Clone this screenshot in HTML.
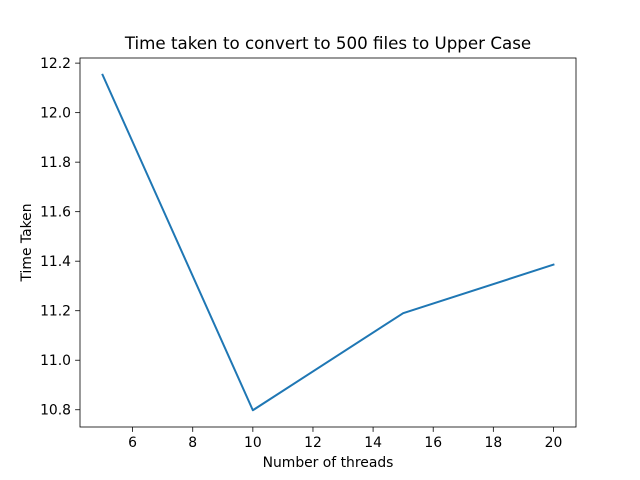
<!DOCTYPE html>
<html><head><meta charset="utf-8"><style>body{margin:0;background:#fff}svg{display:block;font-family:"DejaVu Sans","Liberation Sans",sans-serif}</style></head>
<body>
<svg id="chart" width="640" height="480"></svg>
<script>
const threads = [5, 10, 15, 20];
const timeTaken = [12.153, 10.798, 11.19, 11.386];
const xTicks = [6, 8, 10, 12, 14, 16, 18, 20];
const yTicks = [10.8, 11.0, 11.2, 11.4, 11.6, 11.8, 12.0, 12.2];
const L=80,R=576,T=58,B=427;
const xmin=4.25,xmax=20.75;
const ymin=10.7303,ymax=12.2207;
const sx=v=>L+(v-xmin)/(xmax-xmin)*(R-L);
const sy=v=>B-(v-ymin)/(ymax-ymin)*(B-T);
const svg=document.getElementById('chart');
const NS='http://www.w3.org/2000/svg';
function mk(tag,attrs,text){const e=document.createElementNS(NS,tag);for(const k in attrs)e.setAttribute(k,attrs[k]);if(text!==undefined)e.textContent=text;svg.appendChild(e);return e;}
xTicks.forEach(t=>{const x=sx(t);
 const l=mk('line',{x1:x,x2:x,y1:B,y2:B+4.9,stroke:'#000','stroke-width':0.8});
 
 
 const tx=mk('text',{x:x,y:B+20,'font-size':13.9,'text-anchor':'middle'},String(t));
 
 
});
yTicks.forEach(t=>{const y=sy(t);
 const l=mk('line',{x1:L-4.9,x2:L,y1:y,y2:y,stroke:'#000','stroke-width':0.8});
 
 
 const tx=mk('text',{x:L-9,y:y+5,'font-size':13.9,'text-anchor':'end'},t.toFixed(1));
 
 
});
const pts=threads.map((v,i)=>sx(v).toFixed(2)+','+sy(timeTaken[i]).toFixed(2)).join(' ');
const pl=mk('polyline',{points:pts,fill:'none',stroke:'#1f77b4','stroke-width':2,'stroke-linejoin':'round','stroke-linecap':'square'});


const fr=mk('rect',{x:L,y:T,width:R-L,height:B-T,fill:'none',stroke:'#000','stroke-width':0.8});


const ti=mk('text',{x:(L+R)/2,y:T-9,'font-size':16.7,'text-anchor':'middle'},'Time taken to convert to 500 files to Upper Case');


const xl=mk('text',{x:(L+R)/2,y:467,'font-size':13.9,'text-anchor':'middle'},'Number of threads');


const yl=mk('text',{x:0,y:0,'font-size':13.9,'text-anchor':'middle',transform:'translate(31,'+((T+B)/2)+') rotate(-90)'},'Time Taken');


</script>
</body></html>
